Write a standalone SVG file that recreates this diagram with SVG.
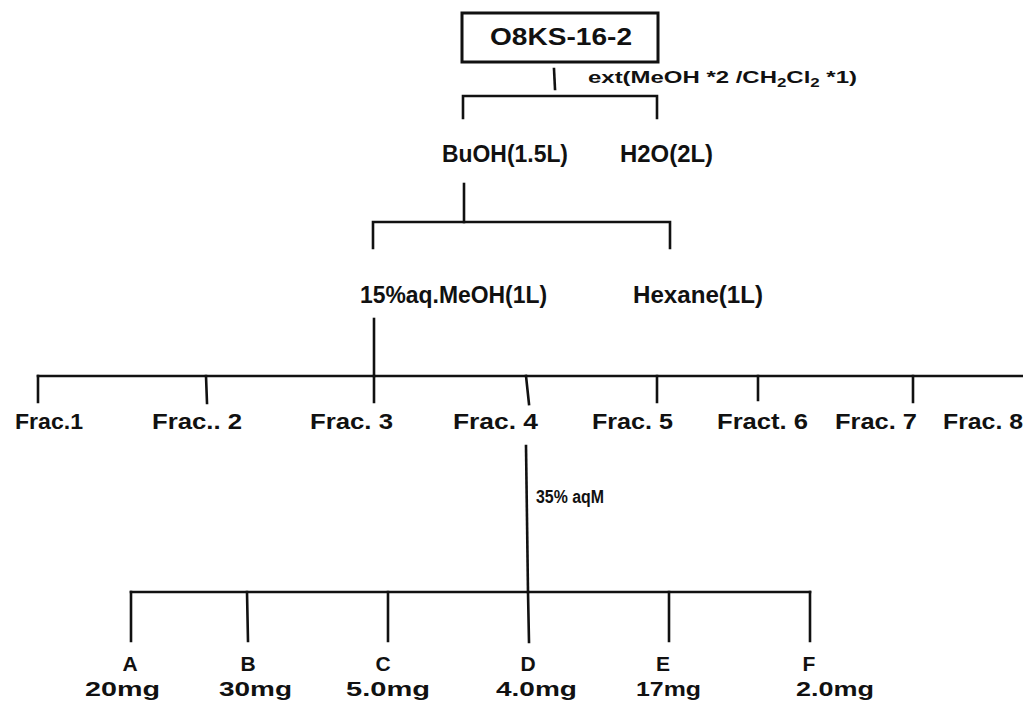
<svg xmlns="http://www.w3.org/2000/svg" width="1023" height="702" viewBox="0 0 1023 702">
  <style>
    .ln { stroke: #111; stroke-width: 2.6; fill: none; stroke-linecap: square; }
    .box { stroke: #111; stroke-width: 3; fill: #fff; }
    text { font-family: "Liberation Sans", Arial, sans-serif; font-weight: bold; fill: #111; }
    .t23 { font-size: 23px; }
    .t22 { font-size: 22px; }
    .t21 { font-size: 21px; }
    .t18 { font-size: 18px; }
    .t17 { font-size: 17px; }
    .mid { text-anchor: middle; }
  </style>
  <rect width="1023" height="702" fill="#fff"/>

  <!-- connectors -->
  <g id="connectors">
    <path class="ln" d="M554 69 L555 89"/>
    <path class="ln" d="M463 118 V96 H657 V118"/>
    <path class="ln" d="M464 184 V222"/>
    <path class="ln" d="M373 248 V222 H670 V248"/>
    <path class="ln" d="M374 319 V376"/>
    <path class="ln" d="M38 376 H1023"/>
    <path class="ln" d="M38 376 V402 M206 376 L207 403 M374 376 V402 M526 376 L529 404 M657 376 V402 M758 376 V400 M913 376 V402"/>
    <path class="ln" d="M526 446 L528 592"/>
    <path class="ln" d="M131 592 H810"/>
    <path class="ln" d="M131 592 V641 M247 592 L248 641 M388 592 V641 M528 592 L529 642 M669 592 V641 M810 592 V641"/>
  </g>

  <!-- root sample -->
  <g id="node-root">
    <rect class="box" x="462" y="13" width="196" height="49"/>
    <text class="t23" x="490" y="45" textLength="142" lengthAdjust="spacingAndGlyphs">O8KS-16-2</text>
  </g>
  <g id="label-ext">
    <text class="t17" x="588" y="83" textLength="269" lengthAdjust="spacingAndGlyphs">ext(MeOH *2 /CH<tspan font-size="12" dy="4">2</tspan><tspan dy="-4">Cl</tspan><tspan font-size="12" dy="4">2</tspan><tspan dy="-4"> *1)</tspan></text>
  </g>

  <!-- solvent partitions -->
  <g id="node-buoh"><text class="t23" x="442" y="162" textLength="126" lengthAdjust="spacingAndGlyphs">BuOH(1.5L)</text></g>
  <g id="node-h2o"><text class="t23" x="620" y="162" textLength="93" lengthAdjust="spacingAndGlyphs">H2O(2L)</text></g>
  <g id="node-meoh"><text class="t23" x="360" y="303" textLength="187" lengthAdjust="spacingAndGlyphs">15%aq.MeOH(1L)</text></g>
  <g id="node-hexane"><text class="t23" x="633" y="303" textLength="130" lengthAdjust="spacingAndGlyphs">Hexane(1L)</text></g>

  <!-- fractions -->
  <g id="node-frac1"><text class="t22" x="15" y="429" textLength="68" lengthAdjust="spacingAndGlyphs">Frac.1</text></g>
  <g id="node-frac2"><text class="t22" x="152" y="429" textLength="90" lengthAdjust="spacingAndGlyphs">Frac.. 2</text></g>
  <g id="node-frac3"><text class="t22" x="310" y="429" textLength="83" lengthAdjust="spacingAndGlyphs">Frac. 3</text></g>
  <g id="node-frac4"><text class="t22" x="453" y="429" textLength="85" lengthAdjust="spacingAndGlyphs">Frac. 4</text></g>
  <g id="node-frac5"><text class="t22" x="592" y="429" textLength="81" lengthAdjust="spacingAndGlyphs">Frac. 5</text></g>
  <g id="node-frac6"><text class="t22" x="717" y="429" textLength="91" lengthAdjust="spacingAndGlyphs">Fract. 6</text></g>
  <g id="node-frac7"><text class="t22" x="835" y="429" textLength="82" lengthAdjust="spacingAndGlyphs">Frac. 7</text></g>
  <g id="node-frac8"><text class="t22" x="943" y="429" textLength="80" lengthAdjust="spacingAndGlyphs">Frac. 8</text></g>

  <g id="label-aqm"><text class="t18" x="536" y="503" textLength="68" lengthAdjust="spacingAndGlyphs">35% aqM</text></g>

  <!-- sub-fractions of Frac. 4 -->
  <g id="node-a"><text class="t21 mid" x="130" y="671">A</text><text class="t21" x="85" y="696" textLength="75" lengthAdjust="spacingAndGlyphs">20mg</text></g>
  <g id="node-b"><text class="t21 mid" x="248" y="671">B</text><text class="t21" x="219" y="696" textLength="73" lengthAdjust="spacingAndGlyphs">30mg</text></g>
  <g id="node-c"><text class="t21 mid" x="383" y="671">C</text><text class="t21" x="346" y="696" textLength="84" lengthAdjust="spacingAndGlyphs">5.0mg</text></g>
  <g id="node-d"><text class="t21 mid" x="528" y="671">D</text><text class="t21" x="496" y="696" textLength="81" lengthAdjust="spacingAndGlyphs">4.0mg</text></g>
  <g id="node-e"><text class="t21 mid" x="663" y="671">E</text><text class="t21" x="636" y="696" textLength="65" lengthAdjust="spacingAndGlyphs">17mg</text></g>
  <g id="node-f"><text class="t21 mid" x="809" y="671">F</text><text class="t21" x="796" y="696" textLength="78" lengthAdjust="spacingAndGlyphs">2.0mg</text></g>
</svg>
